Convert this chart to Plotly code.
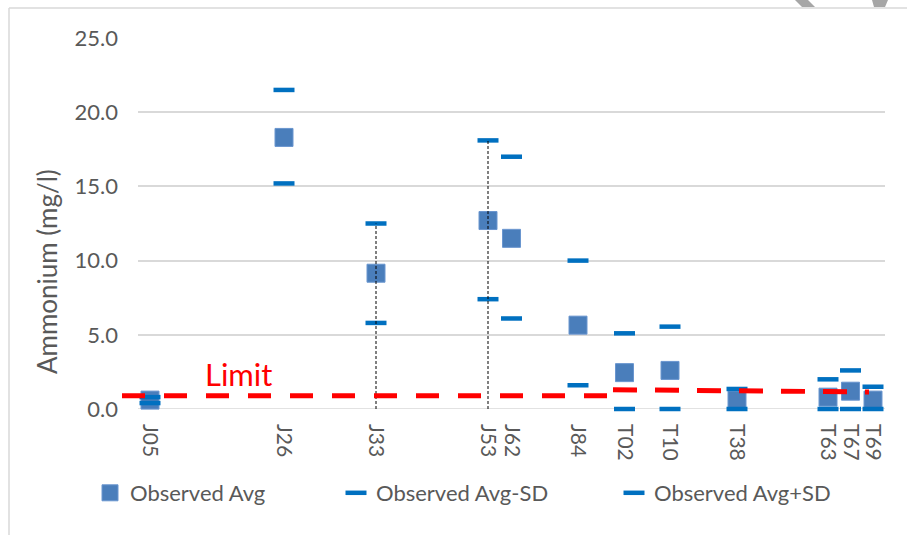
import plotly.graph_objects as go

# ---- data ----
sites = ["J05", "J26", "J33", "J53", "J62", "J84", "T02", "T10", "T38", "T63", "T67", "T69"]
site_pos = [12, 146, 238, 350, 373.5, 440, 486.5, 532, 599, 690, 712.5, 735]
avg = [0.6, 18.3, 9.15, 12.7, 11.5, 5.65, 2.45, 2.6, 0.6, 0.8, 1.2, 0.6]
avg_minus_sd = [0.4, 15.2, 5.8, 7.4, 6.1, 1.6, 0.0, 0.0, 0.0, 0.0, 0.0, 0.0]
avg_plus_sd = [0.8, 21.5, 12.5, 18.1, 17.0, 10.0, 5.1, 5.55, 1.35, 2.0, 2.6, 1.5]
limit_j = 0.9            # limit for J sites
limit_t = [1.3, 1.15]    # limit for T sites (start, end)
marked_sites = ["J33", "J53"]
y_ticks = [0, 5, 10, 15, 20, 25]

# ---- layout constants (pixels) ----
W, H = 907, 535
L, R, T, B = 138, 22, 38, 126
pw, ph = W - L - R, H - T - B
def px(x):
    return (x - L) / pw
def py(y):
    return (H - B - y) / ph

font = "Lato, Calibri, Arial, sans-serif"
grey = "#595959"

fig = go.Figure()

fig.add_trace(go.Scatter(
    x=site_pos, y=avg, mode="markers", name="Observed Avg",
    marker=dict(symbol="square", size=18, color="#4A7EBB",
                line=dict(width=1, color="#6A96CF")),
    cliponaxis=False, legend="legend"))
fig.add_trace(go.Scatter(
    x=site_pos, y=avg_minus_sd, mode="markers", name="Observed Avg-SD",
    marker=dict(symbol="line-ew", size=15, color="#0070C0",
                line=dict(width=4.5, color="#0070C0")),
    cliponaxis=False, legend="legend2"))
fig.add_trace(go.Scatter(
    x=site_pos, y=avg_plus_sd, mode="markers", name="Observed Avg+SD",
    marker=dict(symbol="line-ew", size=15, color="#0070C0",
                line=dict(width=4.5, color="#0070C0")),
    cliponaxis=False, legend="legend3"))

# vertical black dashed markers
for s in marked_sites:
    i = sites.index(s)
    fig.add_trace(go.Scatter(
        x=[site_pos[i], site_pos[i]], y=[0, avg_plus_sd[i]], mode="lines",
        line=dict(color="black", width=1, dash="3px,2px"),
        showlegend=False, hoverinfo="skip"))

# limit lines
ji = [i for i, s in enumerate(sites) if s.startswith("J")]
ti = [i for i, s in enumerate(sites) if s.startswith("T")]
fig.add_shape(type="line", xref="paper", yref="y",
              x0=px(122), x1=(site_pos[ji[-1]] + 29) / pw, y0=limit_j, y1=limit_j,
              line=dict(color="#FF0000", width=5, dash="23px,19px"))
fig.add_shape(type="line", xref="x", yref="y",
              x0=site_pos[ti[0]] - 11.5, x1=site_pos[ti[-1]] - 4, y0=limit_t[0], y1=limit_t[1],
              line=dict(color="#FF0000", width=5, dash="24px,18px"))

fig.add_annotation(text="Limit", xref="paper", yref="paper", x=px(238), y=py(374),
                   xanchor="center", yanchor="middle",
                   showarrow=False, font=dict(family=font, size=31, color="#FF0000"))

fig.add_annotation(text="Ammonium (mg/l)", xref="paper", yref="paper", x=px(47), y=py(272),
                   xanchor="center", yanchor="middle",
                   textangle=-90, showarrow=False, font=dict(family=font, size=26, color=grey))

# frame
fig.add_shape(type="line", xref="paper", yref="paper", x0=px(9), x1=px(907), y0=py(8), y1=py(8),
              line=dict(color="#D9D9D9", width=1.5))
fig.add_shape(type="line", xref="paper", yref="paper", x0=px(9), x1=px(9), y0=py(8), y1=py(535),
              line=dict(color="#D9D9D9", width=1.5))
# partial decorations at top-right edge
fig.add_shape(type="path", xref="paper", yref="paper",
              path=f"M {px(795)} {py(0)} L {px(808)} {py(0)} L {px(815)} {py(7)} L {px(802)} {py(7)} Z",
              fillcolor="#A6A6A6", line=dict(width=0))
fig.add_shape(type="path", xref="paper", yref="paper",
              path=f"M {px(872)} {py(0)} L {px(888)} {py(0)} L {px(885)} {py(7)} L {px(874)} {py(7)} Z",
              fillcolor="#A6A6A6", line=dict(width=0))

leg_common = dict(orientation="h", yanchor="middle", y=py(493), xanchor="left",
                  font=dict(family=font, size=22, color=grey), bgcolor="rgba(0,0,0,0)",
                  itemwidth=30)
fig.update_layout(
    width=W, height=H,
    margin=dict(l=L, r=R, t=T, b=B),
    paper_bgcolor="white", plot_bgcolor="white",
    font=dict(family=font, color=grey),
    showlegend=True,
    legend=dict(x=px(90), **leg_common),
    legend2=dict(x=px(336), **leg_common),
    legend3=dict(x=px(614), **leg_common),
    xaxis=dict(range=[0, pw], tickmode="array", tickvals=site_pos, ticktext=sites,
               tickangle=90, showgrid=False, zeroline=False, showline=False, ticks="",
               tickfont=dict(family=font, size=21, color=grey), ticklabelstandoff=14),
    yaxis=dict(range=[0, 25], tickmode="array", tickvals=y_ticks, tickformat=".1f",
               showgrid=True, gridcolor="#D9D9D9", gridwidth=1.5, zeroline=False,
               showline=False, ticks="",
               tickfont=dict(family=font, size=22, color=grey), ticklabelstandoff=19),
)
fig.add_shape(type="line", xref="paper", yref="y", x0=0, x1=1, y0=0, y1=0,
              line=dict(color="#D9D9D9", width=1.5), layer="below")

fig.write_html("out.html", config={"displayModeBar": False},
               post_script="document.body.style.margin='0';document.body.style.overflow='hidden';")
